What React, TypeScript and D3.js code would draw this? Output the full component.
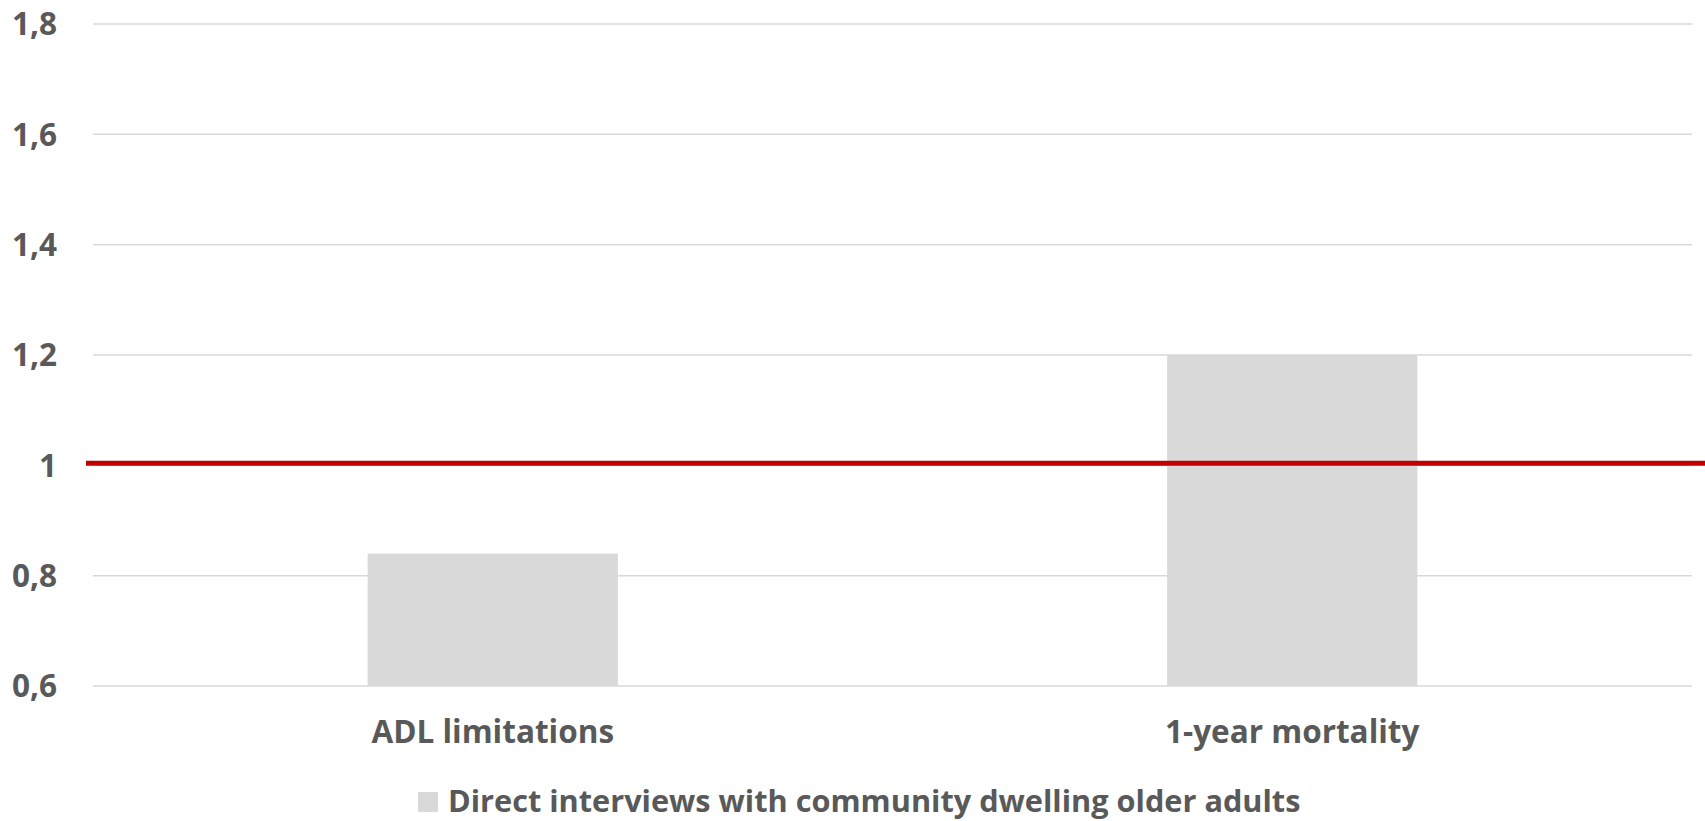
import React from "react";
import * as d3 from "d3";

const categories = ["ADL limitations", "1-year mortality"];
const values = [0.84, 1.2];
const yTicks = [0.6, 0.8, 1.0, 1.2, 1.4, 1.6, 1.8];
const referenceValue = 1;
const seriesName = "Direct interviews with community dwelling older adults";

const W = 1705;
const H = 821;
const margin = { top: 24, right: 13, bottom: 135, left: 93 };
const FONT = "'Open Sans', Lato, sans-serif";
const TEXT = "#595959";
const FS = 31.5;
const LEGEND_FS = 30.7;

export default function App() {
  const x = d3
    .scaleBand<string>()
    .domain(categories)
    .range([margin.left, W - margin.right])
    .paddingInner(0.687)
    .paddingOuter(0.3435);
  const y = d3
    .scaleLinear()
    .domain([0.6, 1.8])
    .range([H - margin.bottom, margin.top]);
  const fmt = (v: number) => (Number.isInteger(v) ? String(v) : v.toFixed(1).replace(".", ","));

  return (
    <svg
      width={W}
      height={H}
      style={{ position: "absolute", left: 0, top: 0, display: "block", background: "#fff" }}
    >
      {yTicks.map((t) => (
        <g key={t}>
          <line
            x1={margin.left}
            x2={W - margin.right}
            y1={y(t)}
            y2={y(t)}
            stroke="#d9d9d9"
            strokeWidth={1.5}
          />
          <text
            x={57}
            y={y(t)}
            dy="0.36em"
            textAnchor="end"
            fontFamily={FONT}
            fontWeight={700}
            fontSize={FS}
            fill={TEXT}
          >
            {fmt(t)}
          </text>
        </g>
      ))}
      {categories.map((c, i) => (
        <g key={c}>
          <rect
            x={x(c)!}
            y={y(values[i])}
            width={x.bandwidth()}
            height={y(0.6) - y(values[i])}
            fill="#d9d9d9"
          />
          <text
            x={x(c)! + x.bandwidth() / 2}
            y={743}
            textAnchor="middle"
            fontFamily={FONT}
            fontWeight={700}
            fontSize={FS}
            fill={TEXT}
          >
            {c}
          </text>
        </g>
      ))}
      <line
        x1={86}
        x2={W}
        y1={y(referenceValue) - 2}
        y2={y(referenceValue) - 2}
        stroke="#c00000"
        strokeWidth={5}
      />
      <rect x={418} y={792} width={20} height={20} fill="#d9d9d9" />
      <text x={448} y={812} fontFamily={FONT} fontWeight={700} fontSize={LEGEND_FS} fill={TEXT}>
        {seriesName}
      </text>
    </svg>
  );
}
